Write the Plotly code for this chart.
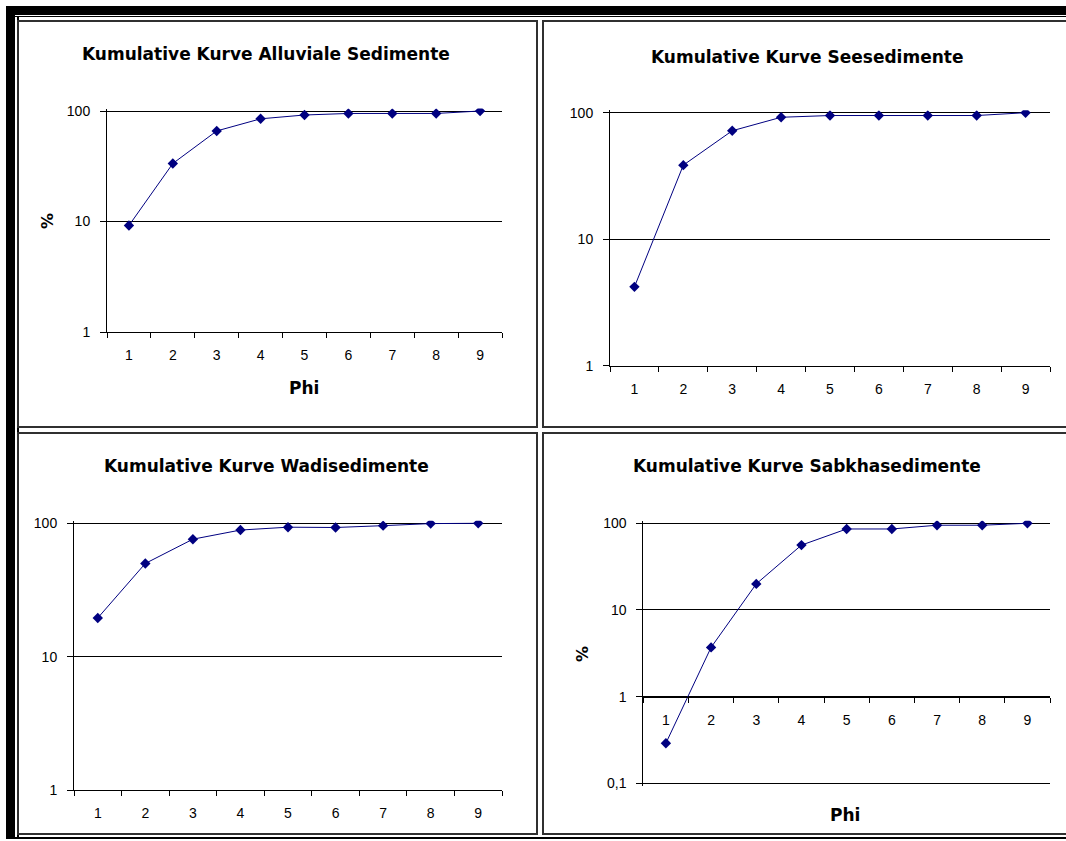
import plotly.graph_objects as go

W, H = 1066, 841

# Phi classes and cumulative percentages for each sediment type
phi = ["1", "2", "3", "4", "5", "6", "7", "8", "9"]
alluvial = [9.2, 33.5, 66, 85, 92, 95, 95, 95, 100]
see = [4.2, 38.5, 72, 92, 95, 95, 95, 95, 100]
wadi = [19.5, 50, 76, 89, 93.5, 93, 96, 99.5, 100]
sabkha = [0.29, 3.7, 20, 56, 86, 86, 95, 95, 100]

titles = [
    "Kumulative Kurve Alluviale Sedimente",
    "Kumulative Kurve Seesedimente",
    "Kumulative Kurve Wadisedimente",
    "Kumulative Kurve Sabkhasedimente",
]
y_ticks_std = [1, 10, 100]
y_labels_std = ["1", "10", "100"]
y_ticks_low = [0.1, 1, 10, 100]
y_labels_low = ["0,1", "1", "10", "100"]

NAVY = "#000080"
TICK_FONT = dict(family="Liberation Sans, Arial", size=14, color="black")
BOLD_FONT = dict(family="DejaVu Sans", size=17, color="black", weight="bold")


def fx(px):
    return px / W


def fy(py):
    return 1 - py / H


fig = go.Figure()

# (series, x-domain px, y-domain px (top, bottom), log range, ticks, labels,
#  x-axis pixel row or None, pad the lower end so its gridline shows)
panels = [
    (alluvial, (107, 502), (111, 332), [0, 2], y_ticks_std, y_labels_std, None, False),
    (see, (610, 1050), (112.7, 365.7), [0, 2], y_ticks_std, y_labels_std, None, False),
    (wadi, (74, 502), (523.3, 790), [0, 2], y_ticks_std, y_labels_std, None, False),
    (sabkha, (643.3, 1050), (523.3, 783.3), [-1, 2], y_ticks_low, y_labels_low, 697.3, True),
]

PAD_PX = 2.5  # keeps the edge gridlines from being clipped

layout_axes = {}
for i, (vals, xd, yd, yr, tv, tt, xrow, pad_low) in enumerate(panels, start=1):
    sfx = "" if i == 1 else str(i)
    fig.add_trace(go.Scatter(
        x=phi, y=vals, mode="lines+markers",
        xaxis="x" + sfx, yaxis="y" + sfx,
        line=dict(color=NAVY, width=1),
        marker=dict(symbol="diamond", size=8, color=NAVY),
        showlegend=False, hoverinfo="x+y",
    ))
    per_decade = (yd[1] - yd[0]) / (yr[1] - yr[0])
    e = PAD_PX / per_decade
    top_px = yd[0] - PAD_PX
    bot_px = yd[1] + (PAD_PX if pad_low else 0)
    rng = [yr[0] - (e if pad_low else 0), yr[1] + e]

    xa = dict(
        type="category", domain=[fx(xd[0]), fx(xd[1])],
        range=[-0.5, 8.5], tickson="boundaries",
        ticks="outside", ticklen=5, tickwidth=1, tickcolor="black",
        showline=True, linecolor="black", linewidth=1,
        showgrid=False, tickfont=TICK_FONT, ticklabelstandoff=10,
        fixedrange=True, automargin=False,
    )
    if xrow is None:
        xa["anchor"] = "y" + sfx
    else:
        xa["anchor"] = "free"
        xa["position"] = fy(xrow)
    ya = dict(
        type="log", domain=[fy(bot_px), fy(top_px)], range=rng,
        anchor="x" + sfx, tickvals=tv, ticktext=tt,
        ticks="outside", ticklen=6, tickwidth=1, tickcolor="black",
        showline=True, linecolor="black", linewidth=1,
        showgrid=True, gridcolor="black", gridwidth=1,
        tickfont=TICK_FONT, ticklabelstandoff=7, fixedrange=True,
        automargin=False,
    )
    layout_axes["xaxis" + sfx] = xa
    layout_axes["yaxis" + sfx] = ya

annotations = []
title_pos = [(266, 54), (807, 57), (266, 466), (807, 466)]
for t, (ax, ay) in zip(titles, title_pos):
    annotations.append(dict(text=t, x=fx(ax), y=fy(ay), xref="paper", yref="paper",
                            xanchor="center", yanchor="middle", showarrow=False,
                            font=BOLD_FONT))
# axis titles
for ax, ay in [(304, 388), (845, 815)]:
    annotations.append(dict(text="Phi", x=fx(ax), y=fy(ay), xref="paper", yref="paper",
                            xanchor="center", yanchor="middle", showarrow=False,
                            font=BOLD_FONT))
for ax, ay in [(47, 221), (582, 654)]:
    annotations.append(dict(text="%", x=fx(ax), y=fy(ay), xref="paper", yref="paper",
                            xanchor="center", yanchor="middle", showarrow=False,
                            textangle=-90, font=dict(BOLD_FONT, size=16)))

shapes = []


def rect(x0, y0, x1, y1, fill=None, color="black", width=0):
    d = dict(type="rect", xref="paper", yref="paper",
             x0=fx(x0), x1=fx(x1), y0=fy(y1), y1=fy(y0), layer="above")
    if fill:
        d["fillcolor"] = fill
        d["line"] = dict(width=0)
    else:
        d["line"] = dict(color=color, width=width)
    return d


def hline(x0, x1, y, color="black", width=1):
    return dict(type="line", xref="paper", yref="paper", x0=fx(x0), x1=fx(x1),
                y0=fy(y), y1=fy(y), line=dict(color=color, width=width), layer="above")


def vline(x, y0, y1, color="black", width=1):
    return dict(type="line", xref="paper", yref="paper", x0=fx(x), x1=fx(x),
                y0=fy(y0), y1=fy(y1), line=dict(color=color, width=width), layer="above")


# outer frame
shapes.append(rect(6, 6, 1070, 15, fill="black"))
shapes.append(rect(6, 6, 15, 839, fill="black"))
shapes.append(hline(15, 1070, 16.5, width=1))
shapes.append(vline(18, 16, 838, width=2))
shapes.append(hline(6, 1070, 838, width=2))

# panel borders
PANEL = "#303030"
for x0, y0, x1, y1 in [(18, 21, 537, 427), (543, 21, 1072, 427),
                       (18, 433, 537, 834), (543, 433, 1072, 834)]:
    shapes.append(rect(x0, y0, x1, y1, color=PANEL, width=2))

fig.update_layout(
    width=W, height=H,
    margin=dict(l=0, r=0, t=0, b=0, pad=0, autoexpand=False),
    paper_bgcolor="white", plot_bgcolor="white",
    annotations=annotations, shapes=shapes, **layout_axes,
)

fig.write_html("out.html")
